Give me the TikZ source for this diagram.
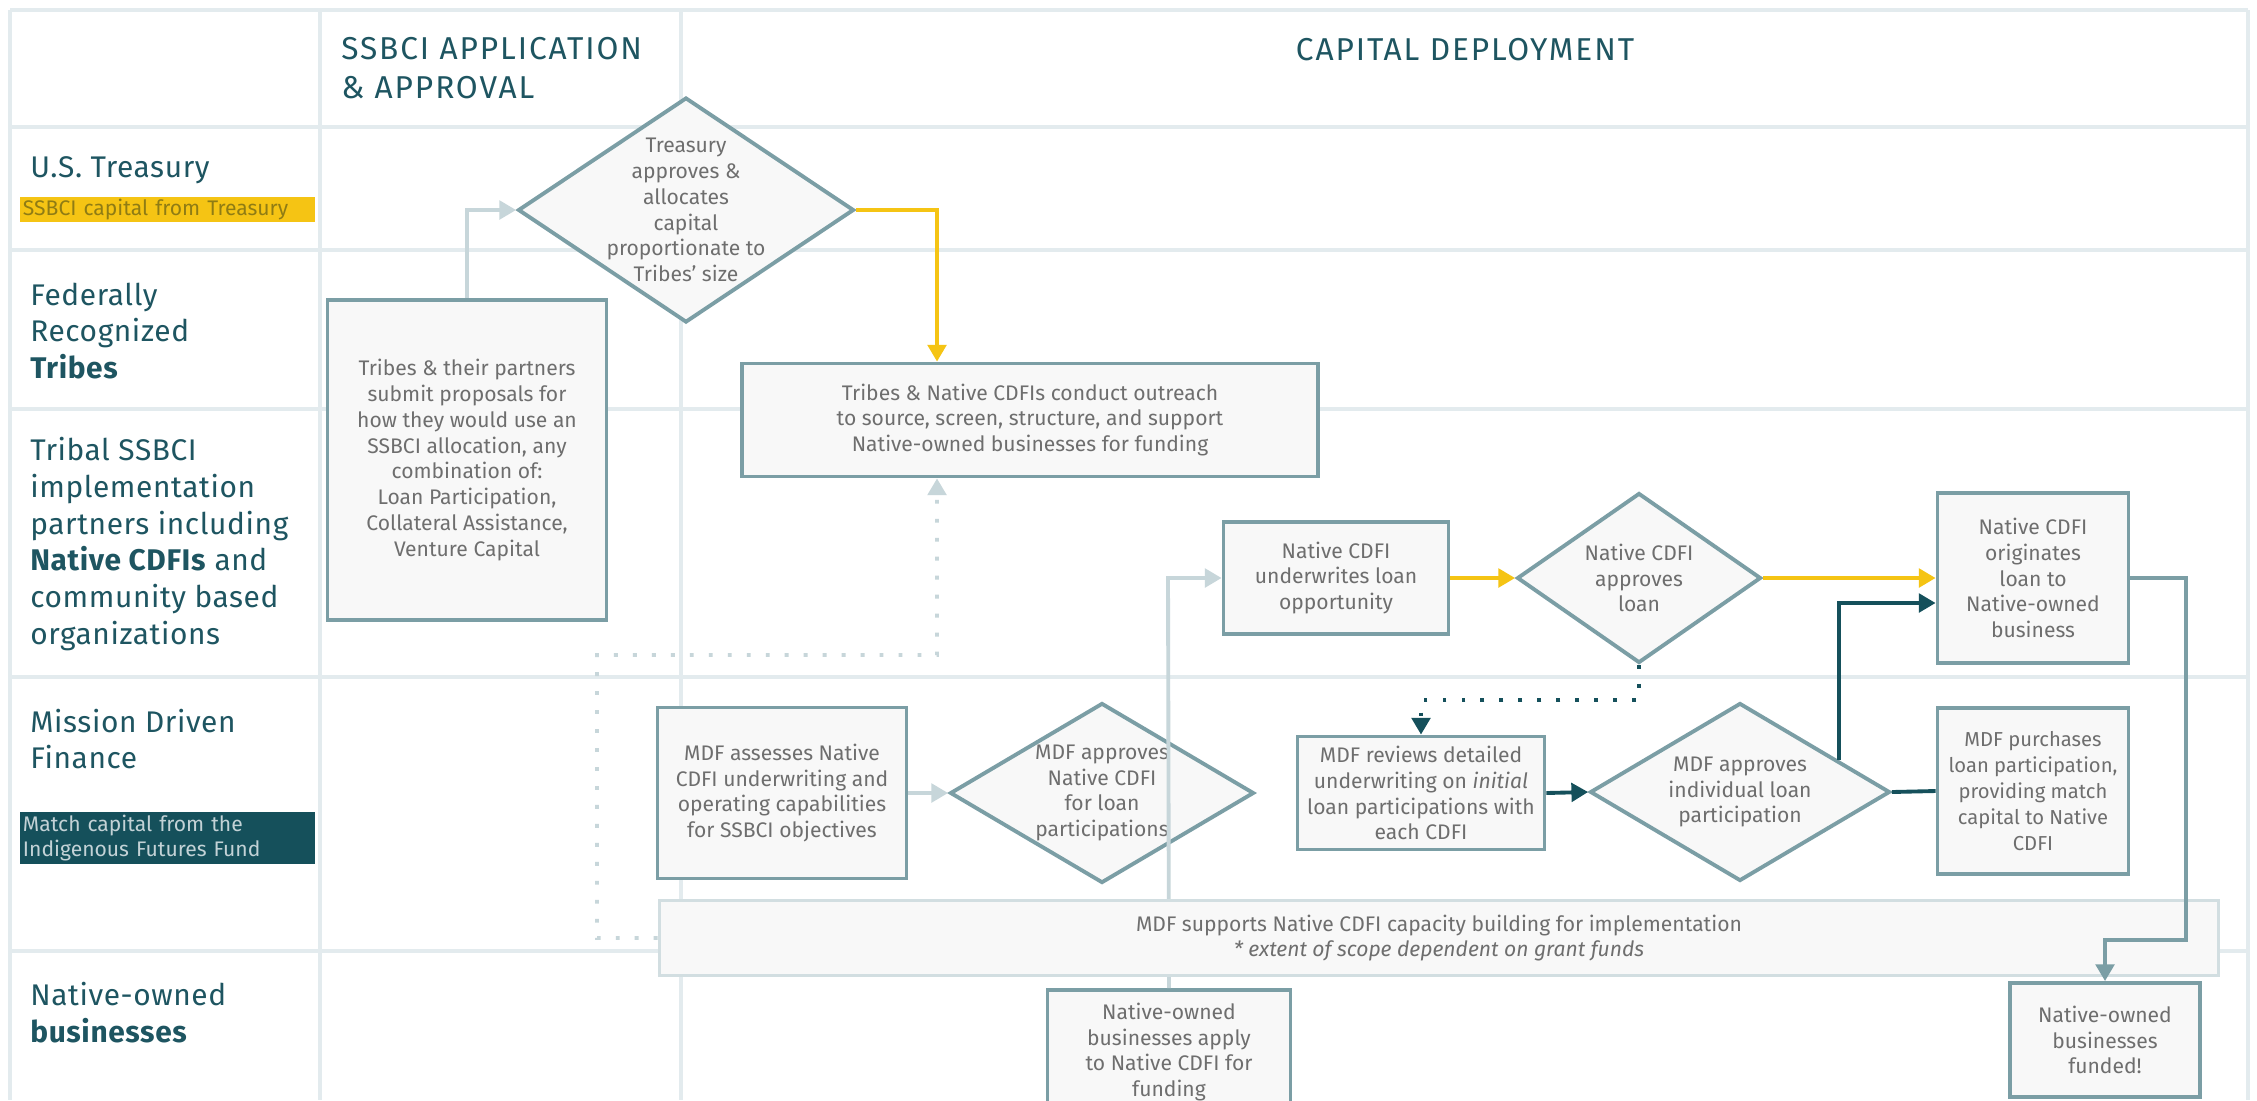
\documentclass[tikz,border=0pt]{standalone}
\usepackage{fontspec}
\setmainfont{Fira Sans}
\usepackage{tikz}
\usetikzlibrary{arrows.meta, shapes.geometric, positioning, calc}
\definecolor{gridc}{HTML}{E3EBEE}
\definecolor{edgec}{HTML}{7B9EA5}
\definecolor{fillc}{HTML}{F8F8F8}
\definecolor{bodyc}{HTML}{6E6E6E}
\definecolor{headc}{HTML}{1E5561}
\definecolor{goldc}{HTML}{F5C414}
\definecolor{goldtxt}{HTML}{8F7C14}
\definecolor{deepc}{HTML}{15505B}
\definecolor{palec}{HTML}{C7D6DA}
\definecolor{fundtxt}{HTML}{C3D2D6}
\newcommand{\cellfont}{\fontsize{12}{14.7}\selectfont}
\newcommand{\lanefont}{\fontsize{17}{21}\selectfont\addfontfeature{LetterSpace=2}}
\newcommand{\colfont}{\fontsize{18}{22}\selectfont\addfontfeature{LetterSpace=6}}
\tikzset{>={Triangle[length=9.5pt,width=10.5pt]}}
\tikzset{
  box/.style={draw=edgec, line width=2.2pt, fill=fillc, text=bodyc, align=center, font=\cellfont, inner sep=0pt},
  dia/.style={diamond, draw=edgec, line width=2.2pt, fill=fillc, inner sep=0pt},
  dtext/.style={text=bodyc, align=center, font=\cellfont, inner sep=0pt},
  lane/.style={text=headc, align=left, anchor=west, font=\lanefont, inner sep=0pt},
  tag/.style={anchor=west, align=left, font=\cellfont, inner xsep=1.5pt, inner ysep=0pt, text width=5.78cm},
  gridline/.style={draw=gridc, line width=1.8pt},
  gold/.style={->, draw=goldc, line width=2.2pt},
  deep/.style={->, draw=deepc, line width=2.2pt},
  pale/.style={->, draw=palec, line width=2.2pt},
  teal/.style={->, draw=edgec, line width=2.2pt},
  dots/.style={line width=2.2pt, dash pattern=on 2.2pt off 8.6pt},
}

\begin{document}
\begin{tikzpicture}[x=0.02cm, y=-0.02cm]
\clip (0,0) rectangle (2257,1100);
\fill[white] (0,0) rectangle (2257,1100);
\foreach \y in {10,127,250,409,677,951} \draw[gridline] (10,\y) -- (2248,\y);
\foreach \x in {10,320,681,2248} \draw[gridline] (\x,10) -- (\x,1100);

\node[lane, font=\colfont] (hd1) at (341,68) {SSBCI APPLICATION\\\& APPROVAL};
\node[text=headc, font=\colfont, inner sep=0pt] (hd2) at (1465,50) {CAPITAL DEPLOYMENT};
\node[lane] (ust) at (30,170) {U.S. Treasury};
\node[tag, fill=goldc, text=goldtxt, minimum height=0.5cm] (ustcap) at (20,209.5) {SSBCI capital from Treasury};
\node[lane] (tribe) at (30,331) {Federally\\Recognized\\\textbf{Tribes}};
\node[lane] (partner) at (30,544) {Tribal SSBCI\\implementation\\partners including\\\textbf{Native CDFIs} and\\community based\\organizations};
\node[lane] (mdf) at (30,739) {Mission Driven\\Finance};
\node[tag, fill=deepc, text=fundtxt, minimum height=1.04cm] (mdfcap) at (20,838) {Match capital from the\\Indigenous Futures Fund};
\node[lane] (biz) at (30,1013) {Native-owned\\\textbf{businesses}};

\node[dia, minimum width=6.72cm, minimum height=4.5cm] (treas) at (686,210) {};
\node[dtext] (treas-t) at (treas) {Treasury\\approves \&\\allocates\\capital\\proportionate to\\Tribes' size};
\node[box, minimum width=5.58cm, minimum height=6.4cm] (tribes) at (467,460) {Tribes \& their partners\\submit proposals for\\how they would use an\\SSBCI allocation, any\\combination of:\\Loan Participation,\\Collateral Assistance,\\Venture Capital};
\node[box, minimum width=11.52cm, minimum height=2.26cm] (outreach) at (1030,420) {Tribes \& Native CDFIs conduct outreach\\to source, screen, structure, and support\\Native-owned businesses for funding};
\node[box, minimum width=4.5cm, minimum height=2.24cm] (underw) at (1336,578) {Native CDFI\\underwrites loan\\opportunity};
\node[dia, minimum width=4.88cm, minimum height=3.4cm] (ncapp) at (1639,578) {};
\node[dtext] (ncapp-t) at (ncapp) {Native CDFI\\approves\\loan};
\node[box, minimum width=3.82cm, minimum height=3.4cm] (orig) at (2033,578) {Native CDFI\\originates\\loan to\\Native-owned\\business};
\node[box, minimum width=4.98cm, minimum height=3.42cm] (assess) at (782,793) {MDF assesses Native\\CDFI underwriting and\\operating capabilities\\for SSBCI objectives};
\node[dia, minimum width=6.08cm, minimum height=3.6cm] (mdfnc) at (1102,793) {};
\node[dtext] (mdfnc-t) at (mdfnc) {MDF approves\\Native CDFI\\for loan\\participations};
\node[box, minimum width=4.94cm, minimum height=2.26cm] (review) at (1421,793) {MDF reviews detailed\\underwriting on \textit{initial}\\loan participations with\\each CDFI};
\node[dia, minimum width=6cm, minimum height=3.56cm] (mdfind) at (1740,792) {};
\node[dtext] (mdfind-t) at (mdfind) {MDF approves\\individual loan\\participation};
\node[box, minimum width=3.82cm, minimum height=3.32cm, font=\fontsize{11.5}{14.7}\selectfont] (purch) at (2033,791) {MDF purchases\\loan participation,\\providing match\\capital to Native\\CDFI};
\node[box, minimum width=4.86cm, minimum height=2.48cm] (apply) at (1169,1052) {Native-owned\\businesses apply\\to Native CDFI for\\funding};
\node[box, minimum width=3.8cm, minimum height=2.28cm] (funded) at (2105,1040) {Native-owned\\businesses\\funded!};

\draw[pale] (apply.north) -- (1168,578) -- (underw.west);
\node[box, draw=palec!80, line width=1.8pt, minimum width=31.2cm, minimum height=1.5cm] (supports) at (1439,938) {MDF supports Native CDFI capacity building for implementation\\\textit{* extent of scope dependent on grant funds}};

\draw[pale] (tribes.north) |- (treas.west);
\draw[gold] (treas.east) -| ([xshift=-1.86cm]outreach.north);
\draw[pale, dots] (supports.west) -- (597,938) -- (597,655) -- (937,655) -- ([xshift=-1.86cm]outreach.south);
\draw[pale] (assess.east) -- (mdfnc.west);
\draw[gold] (underw.east) -- (ncapp.west);
\draw[gold] (ncapp.east) -- (orig.west);
\draw[deep, dots] (ncapp.south) -- (1639,700) -| (review.north);
\draw[deep] (review.east) -- (mdfind.west);
\coordinate (mdfind-ne) at ($(mdfind.north)!0.65!(mdfind.east)$);
\draw[deep] (mdfind-ne) |- ([yshift=-0.5cm]orig.west);
\draw[deep, -] (mdfind.east) -- (purch.west);
\draw[teal] (orig.east) -- (2186,578) -- (2186,940) -| (funded.north);
\end{tikzpicture}
\end{document}
